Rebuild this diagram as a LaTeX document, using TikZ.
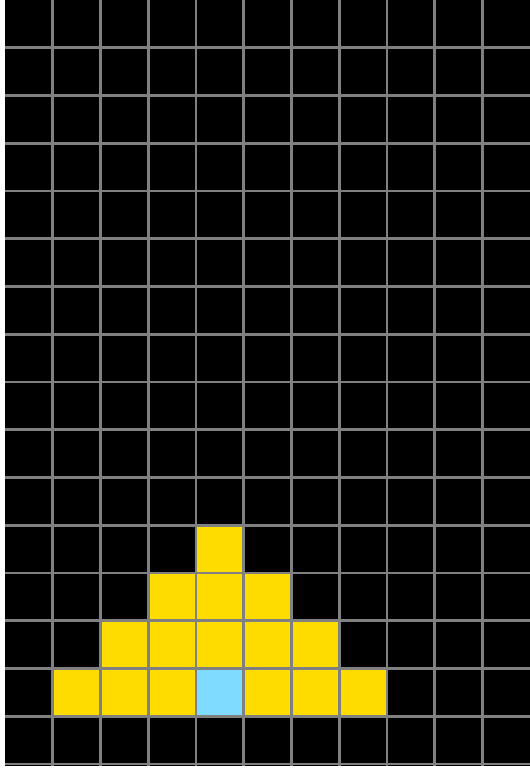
\documentclass[tikz,border=0pt]{standalone}
\begin{document}
\begin{tikzpicture}[x=0.75pt,y=-0.75pt,
  gridline/.style={draw={rgb,255:red,128;green,128;blue,128}, line width=2pt},
  yellowcell/.style={fill={rgb,255:red,255;green,220;blue,0}},
  bluecell/.style={fill={rgb,255:red,127;green,219;blue,255}}]
\useasboundingbox (0,0) rectangle (530,770);
\def\c{47.75}
\begin{scope}
\clip (5,0) rectangle (530,765);
\fill[black] (5,0) rectangle (530,770);
% yellow cells: (col,row)
\foreach \col/\row in {4/11, 3/12,4/12,5/12, 2/13,3/13,4/13,5/13,6/13, 1/14,2/14,3/14,5/14,6/14,7/14}
  \fill[yellowcell] ({5+\col*\c},{\row*\c}) rectangle ({5+(\col+1)*\c},{(\row+1)*\c});
\fill[bluecell] ({5+4*\c},{14*\c}) rectangle ({5+5*\c},{15*\c});
\foreach \k in {1,...,10}
  \draw[gridline] ({5+\k*\c},0) -- ({5+\k*\c},770);
\foreach \k in {1,...,16}
  \draw[gridline] (5,{\k*\c}) -- (530,{\k*\c});
\end{scope}
\end{tikzpicture}
\end{document}
